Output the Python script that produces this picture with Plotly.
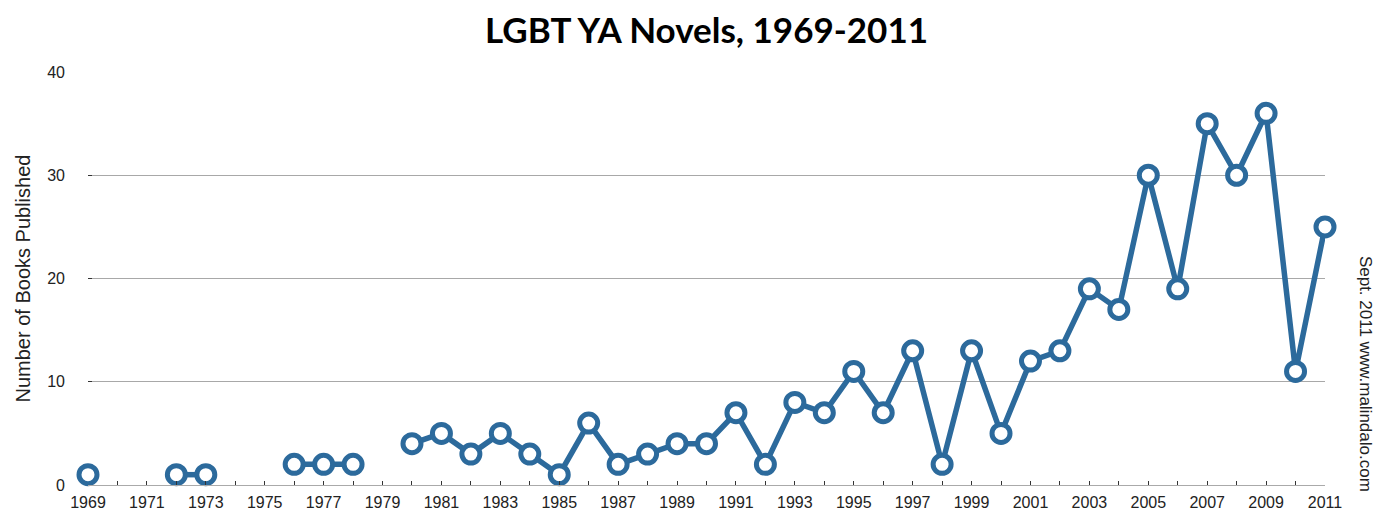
import plotly.graph_objects as go

years = list(range(1969, 2012))
books = [1, None, None, 1, 1, None, None, 2, 2, 2, None,
         4, 5, 3, 5, 3, 1, 6, 2, 3, 4, 4, 7, 2, 8, 7, 11, 7, 13, 2, 13,
         5, 12, 13, 19, 17, 30, 19, 35, 30, 36, 11, 25]
tick_labels = [str(y) if (y - 1969) % 2 == 0 else "" for y in years]
y_ticks = [0, 10, 20, 30, 40]

title = "LGBT YA Novels, 1969-2011"
y_title = "Number of Books Published"
credit = "Sept. 2011 www.malindalo.com"

blue = "#2c6a9c"

fig = go.Figure()
fig.add_trace(go.Scatter(
    x=years, y=books, mode="lines+markers",
    connectgaps=False,
    line=dict(color=blue, width=5.5),
    marker=dict(size=18, color="white", line=dict(color=blue, width=5)),
    cliponaxis=False,
    showlegend=False,
))

fig.update_layout(
    width=1375, height=513,
    paper_bgcolor="white", plot_bgcolor="white",
    margin=dict(l=88, r=50, t=72, b=28),
    title=dict(text=f"<b>{title}</b>", x=0.5, xref="paper", xanchor="center",
               y=0.94, yanchor="middle",
               font=dict(family="Lato, Open Sans, sans-serif", size=35, color="black")),
    font=dict(family="Liberation Sans, Arial, sans-serif", size=16, color="#222"),
)
fig.update_xaxes(
    range=[1969, 2011], tickvals=years, ticktext=tick_labels,
    ticks="inside", ticklen=4, tickcolor="#333", tickwidth=1,
    showgrid=False, showline=True, linecolor="#aaa", linewidth=1,
    zeroline=False, tickfont=dict(size=16, color="#222"),
    ticklabelstandoff=3, automargin=False,
)
fig.update_yaxes(
    range=[0, 40], tickvals=y_ticks,
    ticks="inside", ticklen=4, tickcolor="#333",
    showgrid=True, gridcolor="#a8a8a8", gridwidth=1,
    zeroline=False, showline=False,
    tickfont=dict(size=16, color="#222"),
    ticklabelstandoff=22, automargin=False,
)
fig.add_annotation(
    text=y_title, x=0, xref="paper", xshift=-66, y=0.5, yref="paper",
    textangle=-90, showarrow=False, font=dict(size=20, color="#222"),
    xanchor="center", yanchor="middle",
)
fig.add_annotation(
    text=credit, x=1.0, xref="paper", xshift=40, y=0.269, yref="paper",
    textangle=90, showarrow=False, font=dict(size=17, color="#222"),
    xanchor="center", yanchor="middle",
)
fig.write_html(
    "out.html",
    config={"displayModeBar": False},
    post_script="document.body.style.margin='0';document.body.style.overflow='hidden';",
)
